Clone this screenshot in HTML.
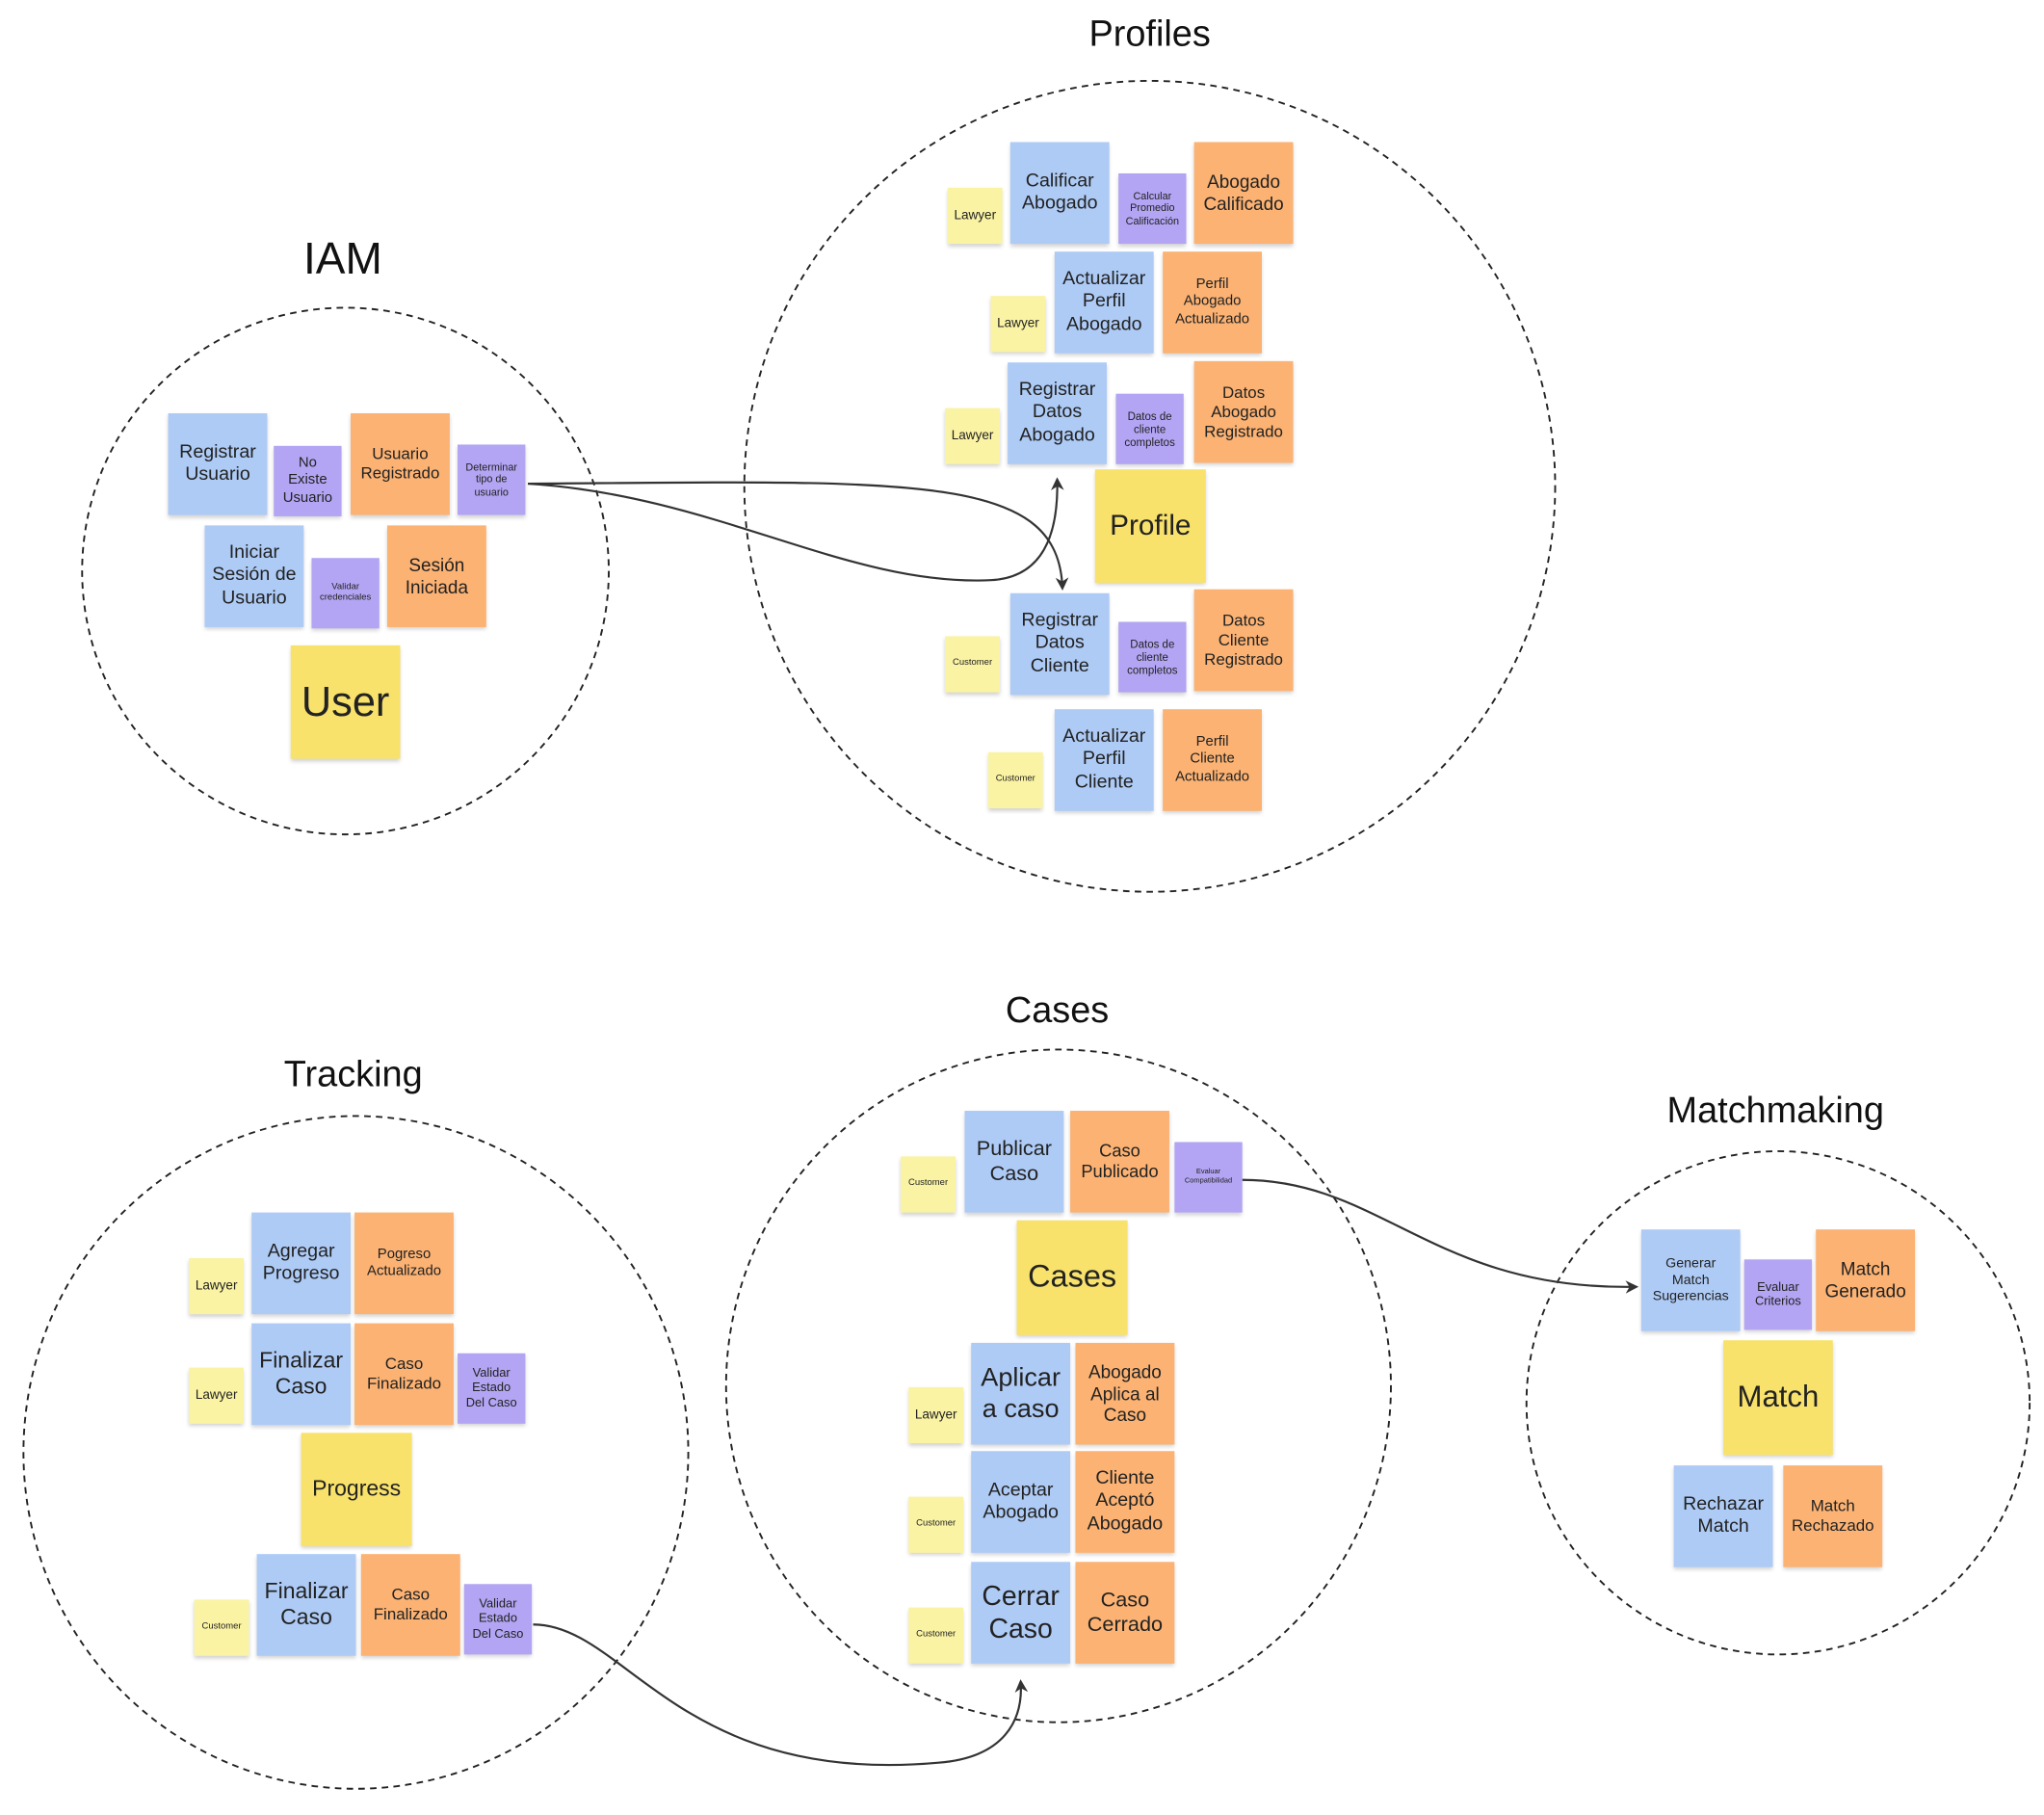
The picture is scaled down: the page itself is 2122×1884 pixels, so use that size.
<!DOCTYPE html>
<html><head><meta charset="utf-8"><style>
html,body{margin:0;padding:0;background:#fff;}
body{width:2122px;height:1884px;overflow:hidden;position:relative;font-family:"Liberation Sans","DejaVu Sans",sans-serif;}
#c{position:absolute;left:0;top:0;width:1568px;height:1392px;transform:scale(1.35332);transform-origin:0 0;}
.s{position:absolute;display:flex;align-items:center;justify-content:center;text-align:center;color:#222;line-height:1.2;box-shadow:0 2px 3px rgba(0,0,0,0.18);box-sizing:border-box;padding:2px;}
.b{background:#aecbf6;width:76px;height:78px;font-size:14.5px;}
.o{background:#fbb273;width:76px;height:78px;font-size:12.5px;}
.p{background:#b3a5f3;width:52px;height:54px;font-size:10.5px;}
.y{background:#faf3a4;width:42px;height:43px;font-size:10px;}
.Y{background:#f8e26b;width:85px;height:87px;font-size:22px;}
.t{position:absolute;font-size:28px;color:#111;transform:translateX(-50%);white-space:nowrap;}
.xs{font-size:8px;}
</style></head><body><div id="c">
<svg width="1568" height="1392" style="position:absolute;left:0;top:0">
<defs><marker id="a" markerWidth="10" markerHeight="10" refX="8" refY="5" orient="auto" markerUnits="userSpaceOnUse"><path d="M0,0 L10,5 L0,10 L3,5 z" fill="#333"/></marker></defs>
<g fill="none" stroke="#222" stroke-width="1.4" stroke-dasharray="5,4">
<ellipse cx="265" cy="438" rx="202" ry="202"/>
<ellipse cx="882" cy="373" rx="311" ry="311"/>
<ellipse cx="273" cy="1114" rx="255" ry="258"/>
<ellipse cx="812" cy="1063" rx="255" ry="258"/>
<ellipse cx="1364" cy="1076" rx="193" ry="193"/>
</g>
<g fill="none" stroke="#333" stroke-width="1.6">
<path d="M405,371 C 700,369 812,362 815,451" marker-end="url(#a)"/>
<path d="M405,371 C 550,380 650,450 760,445 C 800,443 812,410 811,368" marker-end="url(#a)"/>
<path d="M953,905 C 1060,905 1100,990 1255,987" marker-end="url(#a)"/>
<path d="M409,1246 C 480,1246 520,1370 720,1352 C 770,1348 785,1320 783,1290" marker-end="url(#a)"/>
</g>
</svg>
<div class="t" style="left:882px;top:10px">Profiles</div>
<div class="t" style="left:263px;top:180px;font-size:34px">IAM</div>
<div class="t" style="left:271px;top:808px">Tracking</div>
<div class="t" style="left:811px;top:759px">Cases</div>
<div class="t" style="left:1362px;top:836px">Matchmaking</div>

<div class="s b" style="left:129px;top:317px">Registrar Usuario</div>
<div class="s p" style="left:210px;top:342px;font-size:11px">No<br>Existe<br>Usuario</div>
<div class="s o" style="left:269px;top:317px">Usuario Registrado</div>
<div class="s p xs" style="left:351px;top:341px">Determinar tipo de usuario</div>
<div class="s b" style="left:157px;top:403px">Iniciar Sesión de Usuario</div>
<div class="s p" style="left:239px;top:428px;font-size:7px">Validar credenciales</div>
<div class="s o" style="left:297px;top:403px;font-size:14px">Sesión Iniciada</div>
<div class="s Y" style="left:223px;top:495px;width:84px;font-size:32px">User</div>

<div class="s y" style="left:727px;top:144px">Lawyer</div>
<div class="s b" style="left:775px;top:109px">Calificar Abogado</div>
<div class="s p xs" style="left:858px;top:133px">Calcular Promedio Calificación</div>
<div class="s o" style="left:916px;top:109px;font-size:14px">Abogado Calificado</div>
<div class="s y" style="left:760px;top:227px">Lawyer</div>
<div class="s b" style="left:809px;top:193px">Actualizar Perfil Abogado</div>
<div class="s o" style="left:892px;top:193px;font-size:11px">Perfil<br>Abogado<br>Actualizado</div>
<div class="s y" style="left:725px;top:313px">Lawyer</div>
<div class="s b" style="left:773px;top:278px">Registrar Datos Abogado</div>
<div class="s p xs" style="left:856px;top:302px;font-size:8.5px">Datos de<br>cliente<br>completos</div>
<div class="s o" style="left:916px;top:277px">Datos Abogado Registrado</div>
<div class="s Y" style="left:840px;top:360px">Profile</div>
<div class="s y" style="left:725px;top:488px;font-size:7px">Customer</div>
<div class="s b" style="left:775px;top:455px">Registrar Datos Cliente</div>
<div class="s p xs" style="left:858px;top:477px;font-size:8.5px">Datos de<br>cliente<br>completos</div>
<div class="s o" style="left:916px;top:452px">Datos Cliente Registrado</div>
<div class="s y" style="left:758px;top:577px;font-size:7px">Customer</div>
<div class="s b" style="left:809px;top:544px">Actualizar Perfil Cliente</div>
<div class="s o" style="left:892px;top:544px;font-size:11px">Perfil<br>Cliente<br>Actualizado</div>

<div class="s y" style="left:691px;top:887px;font-size:7px">Customer</div>
<div class="s b" style="left:740px;top:852px;font-size:16px">Publicar Caso</div>
<div class="s o" style="left:821px;top:852px;font-size:13.5px">Caso Publicado</div>
<div class="s p" style="left:901px;top:876px;font-size:5.5px">Evaluar Compatibilidad</div>
<div class="s Y" style="left:780px;top:936px;height:88px;font-size:24px">Cases</div>
<div class="s y" style="left:697px;top:1064px">Lawyer</div>
<div class="s b" style="left:745px;top:1030px;font-size:20px">Aplicar a caso</div>
<div class="s o" style="left:825px;top:1030px;font-size:14px">Abogado Aplica al Caso</div>
<div class="s y" style="left:697px;top:1148px;font-size:7px">Customer</div>
<div class="s b" style="left:745px;top:1113px">Aceptar Abogado</div>
<div class="s o" style="left:825px;top:1113px;font-size:14.5px">Cliente Aceptó Abogado</div>
<div class="s y" style="left:697px;top:1233px;font-size:7px">Customer</div>
<div class="s b" style="left:745px;top:1198px;font-size:21px">Cerrar Caso</div>
<div class="s o" style="left:825px;top:1198px;font-size:16px">Caso Cerrado</div>

<div class="s y" style="left:145px;top:965px">Lawyer</div>
<div class="s b" style="left:193px;top:930px">Agregar Progreso</div>
<div class="s o" style="left:272px;top:930px;font-size:11px">Pogreso Actualizado</div>
<div class="s y" style="left:145px;top:1049px">Lawyer</div>
<div class="s b" style="left:193px;top:1015px;font-size:17px">Finalizar Caso</div>
<div class="s o" style="left:272px;top:1015px">Caso Finalizado</div>
<div class="s p" style="left:351px;top:1038px;font-size:9.5px">Validar<br>Estado<br>Del Caso</div>
<div class="s Y" style="left:231px;top:1099px;font-size:17px">Progress</div>
<div class="s y" style="left:149px;top:1227px;font-size:7px">Customer</div>
<div class="s b" style="left:197px;top:1192px;font-size:17px">Finalizar Caso</div>
<div class="s o" style="left:277px;top:1192px">Caso Finalizado</div>
<div class="s p" style="left:356px;top:1215px;font-size:9.5px">Validar<br>Estado<br>Del Caso</div>

<div class="s b" style="left:1259px;top:943px;font-size:10.5px">Generar<br>Match<br>Sugerencias</div>
<div class="s p" style="left:1338px;top:966px;font-size:9.5px">Evaluar Criterios</div>
<div class="s o" style="left:1393px;top:943px;font-size:14px">Match Generado</div>
<div class="s Y" style="left:1322px;top:1028px;width:84px;height:88px;font-size:23px">Match</div>
<div class="s b" style="left:1284px;top:1124px">Rechazar Match</div>
<div class="s o" style="left:1368px;top:1124px">Match Rechazado</div>
</div></body></html>
